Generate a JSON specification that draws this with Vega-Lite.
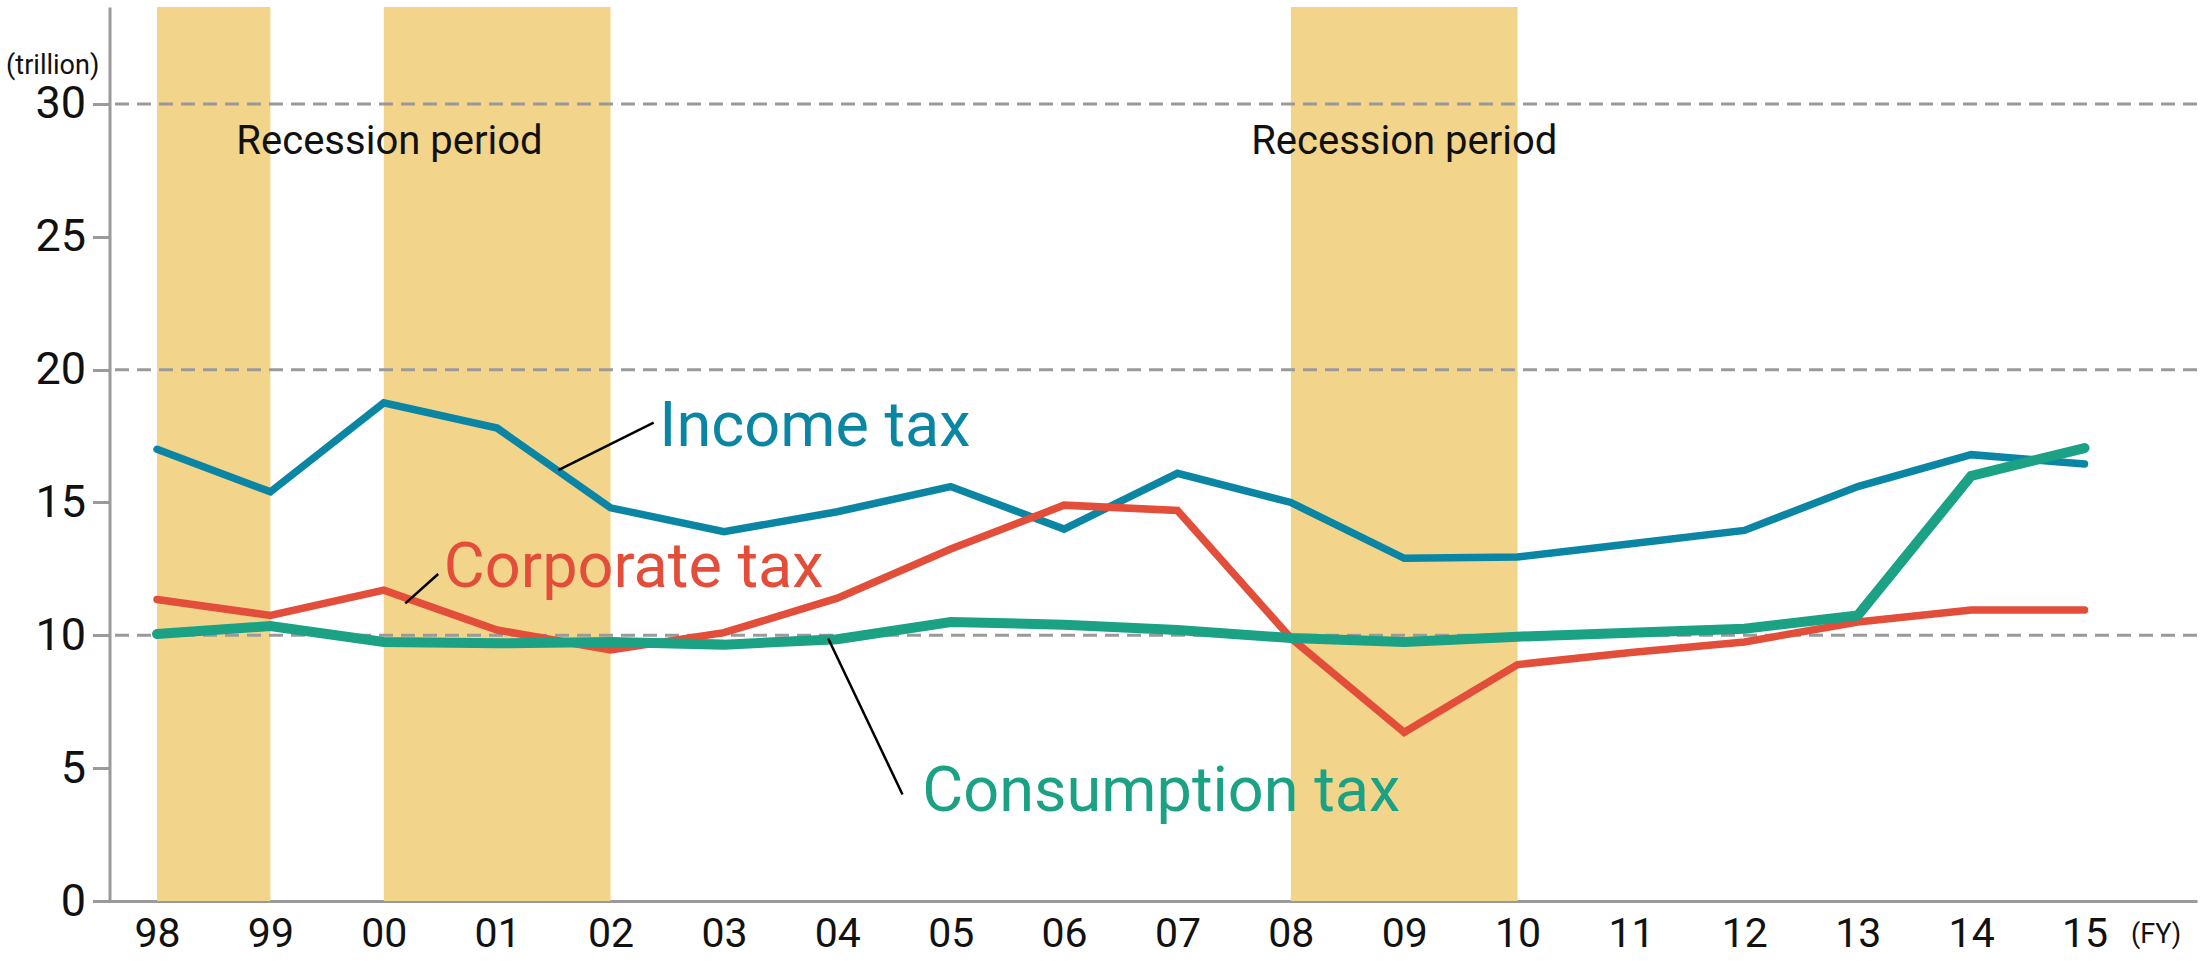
{
  "$schema": "https://vega.github.io/schema/vega-lite/v6.json",
  "width": 2087.5,
  "height": 894,
  "autosize": {"type": "none"},
  "padding": {"left": 109.5, "top": 7, "right": 4, "bottom": 60},
  "background": "white",
  "config": {"view": {"stroke": null}, "font": "Roboto", "text": {"font": "Roboto"}},
  "datasets": {
    "tax": [
      {"x": 1998, "y": 17.0, "tax": "Income tax"},
      {"x": 1999, "y": 15.4, "tax": "Income tax"},
      {"x": 2000, "y": 18.75, "tax": "Income tax"},
      {"x": 2001, "y": 17.8, "tax": "Income tax"},
      {"x": 2002, "y": 14.8, "tax": "Income tax"},
      {"x": 2003, "y": 13.9, "tax": "Income tax"},
      {"x": 2004, "y": 14.65, "tax": "Income tax"},
      {"x": 2005, "y": 15.6, "tax": "Income tax"},
      {"x": 2006, "y": 14.0, "tax": "Income tax"},
      {"x": 2007, "y": 16.1, "tax": "Income tax"},
      {"x": 2008, "y": 15.0, "tax": "Income tax"},
      {"x": 2009, "y": 12.9, "tax": "Income tax"},
      {"x": 2010, "y": 12.95, "tax": "Income tax"},
      {"x": 2011, "y": 13.45, "tax": "Income tax"},
      {"x": 2012, "y": 13.95, "tax": "Income tax"},
      {"x": 2013, "y": 15.6, "tax": "Income tax"},
      {"x": 2014, "y": 16.8, "tax": "Income tax"},
      {"x": 2015, "y": 16.45, "tax": "Income tax"},
      {"x": 1998, "y": 11.35, "tax": "Corporate tax"},
      {"x": 1999, "y": 10.75, "tax": "Corporate tax"},
      {"x": 2000, "y": 11.7, "tax": "Corporate tax"},
      {"x": 2001, "y": 10.2, "tax": "Corporate tax"},
      {"x": 2002, "y": 9.45, "tax": "Corporate tax"},
      {"x": 2003, "y": 10.1, "tax": "Corporate tax"},
      {"x": 2004, "y": 11.4, "tax": "Corporate tax"},
      {"x": 2005, "y": 13.25, "tax": "Corporate tax"},
      {"x": 2006, "y": 14.9, "tax": "Corporate tax"},
      {"x": 2007, "y": 14.7, "tax": "Corporate tax"},
      {"x": 2008, "y": 9.9, "tax": "Corporate tax"},
      {"x": 2009, "y": 6.35, "tax": "Corporate tax"},
      {"x": 2010, "y": 8.9, "tax": "Corporate tax"},
      {"x": 2011, "y": 9.35, "tax": "Corporate tax"},
      {"x": 2012, "y": 9.75, "tax": "Corporate tax"},
      {"x": 2013, "y": 10.5, "tax": "Corporate tax"},
      {"x": 2014, "y": 10.95, "tax": "Corporate tax"},
      {"x": 2015, "y": 10.95, "tax": "Corporate tax"},
      {"x": 1998, "y": 10.05, "tax": "Consumption tax"},
      {"x": 1999, "y": 10.35, "tax": "Consumption tax"},
      {"x": 2000, "y": 9.75, "tax": "Consumption tax"},
      {"x": 2001, "y": 9.7, "tax": "Consumption tax"},
      {"x": 2002, "y": 9.75, "tax": "Consumption tax"},
      {"x": 2003, "y": 9.65, "tax": "Consumption tax"},
      {"x": 2004, "y": 9.85, "tax": "Consumption tax"},
      {"x": 2005, "y": 10.5, "tax": "Consumption tax"},
      {"x": 2006, "y": 10.4, "tax": "Consumption tax"},
      {"x": 2007, "y": 10.2, "tax": "Consumption tax"},
      {"x": 2008, "y": 9.9, "tax": "Consumption tax"},
      {"x": 2009, "y": 9.75, "tax": "Consumption tax"},
      {"x": 2010, "y": 9.95, "tax": "Consumption tax"},
      {"x": 2011, "y": 10.1, "tax": "Consumption tax"},
      {"x": 2012, "y": 10.25, "tax": "Consumption tax"},
      {"x": 2013, "y": 10.75, "tax": "Consumption tax"},
      {"x": 2014, "y": 16.0, "tax": "Consumption tax"},
      {"x": 2015, "y": 17.05, "tax": "Consumption tax"}
    ],
    "bands": [
      {"x": 1998, "x2": 1999},
      {"x": 2000, "x2": 2002},
      {"x": 2008, "x2": 2010}
    ],
    "grid": [{"y": 10}, {"y": 20}, {"y": 30}],
    "leaders": [
      {"x": 2001.54, "y": 16.22, "x2": 2002.38, "y2": 18.01},
      {"x": 2000.19, "y": 11.2, "x2": 2000.48, "y2": 12.31},
      {"x": 2003.92, "y": 9.88, "x2": 2004.575, "y2": 4.01}
    ],
    "labels": [
      {"text": "Income tax", "x": 2002.43, "y": 17.12, "tax": "Income tax"},
      {"text": "Corporate tax", "x": 2000.53, "y": 11.83, "tax": "Corporate tax"},
      {"text": "Consumption tax", "x": 2004.75, "y": 3.38, "tax": "Consumption tax"}
    ],
    "recession": [
      {"text": "Recession period", "x": 2000.05, "y": 28.1},
      {"text": "Recession period", "x": 2009.0, "y": 28.1}
    ],
    "yunit": [{"text": "(trillion)", "x": 1997.08, "y": 31.43}],
    "xunit": [{"text": "(FY)", "x": 2015.41, "y": -1.27}]
  },
  "layer": [
    {
      "data": {"name": "bands"},
      "mark": {"type": "rect", "color": "#F3D48B"},
      "encoding": {
        "x": {"field": "x", "type": "quantitative", "scale": {"domain": [1997.581, 2015.992], "nice": false, "zero": false}, "axis": {"title": null, "values": [1998,1999,2000,2001,2002,2003,2004,2005,2006,2007,2008,2009,2010,2011,2012,2013,2014,2015], "labelExpr": "slice(toString(datum.value), 2)", "ticks": false, "grid": false, "domainColor": "#9a9a9a", "domainWidth": 3, "labelFontSize": 41, "labelColor": "#111111", "labelPadding": 13, "labelFont": "Roboto"}},
        "x2": {"field": "x2"},
        "y": {"datum": 33.65, "type": "quantitative", "scale": {"domain": [0, 33.65], "nice": false, "zero": true}, "axis": {"title": null, "values": [0,5,10,15,20,25,30], "grid": false, "ticks": true, "tickSize": 17, "tickColor": "#9a9a9a", "tickWidth": 3, "domainColor": "#9a9a9a", "domainWidth": 3, "labelFontSize": 45, "labelColor": "#111111", "labelPadding": 7, "labelFont": "Roboto"}},
        "y2": {"datum": 0}
      }
    },
    {
      "data": {"name": "grid"},
      "mark": {"type": "rule", "color": "#9a9a9a", "strokeWidth": 3, "strokeDash": [14, 8]},
      "encoding": {
        "y": {"field": "y", "type": "quantitative"}
      }
    },
    {
      "data": {"name": "tax"},
      "transform": [{"filter": "datum.tax == 'Income tax'"}],
      "mark": {"type": "line", "color": "#0A86A4", "strokeWidth": 7.5, "strokeCap": "round", "strokeJoin": "miter"},
      "encoding": {
        "x": {"field": "x", "type": "quantitative"},
        "y": {"field": "y", "type": "quantitative"}
      }
    },
    {
      "data": {"name": "tax"},
      "transform": [{"filter": "datum.tax == 'Corporate tax'"}],
      "mark": {"type": "line", "color": "#E34E3A", "strokeWidth": 7.5, "strokeCap": "round", "strokeJoin": "miter"},
      "encoding": {
        "x": {"field": "x", "type": "quantitative"},
        "y": {"field": "y", "type": "quantitative"}
      }
    },
    {
      "data": {"name": "tax"},
      "transform": [{"filter": "datum.tax == 'Consumption tax'"}],
      "mark": {"type": "line", "color": "#1BA183", "strokeWidth": 10, "strokeCap": "round", "strokeJoin": "miter"},
      "encoding": {
        "x": {"field": "x", "type": "quantitative"},
        "y": {"field": "y", "type": "quantitative"}
      }
    },
    {
      "data": {"name": "leaders"},
      "mark": {"type": "rule", "color": "#000000", "strokeWidth": 2.5},
      "encoding": {
        "x": {"field": "x", "type": "quantitative"},
        "y": {"field": "y", "type": "quantitative"},
        "x2": {"field": "x2"},
        "y2": {"field": "y2"}
      }
    },
    {
      "data": {"name": "labels"},
      "mark": {"type": "text", "align": "left", "baseline": "alphabetic", "fontSize": 63, "font": "Roboto"},
      "encoding": {
        "x": {"field": "x", "type": "quantitative"},
        "y": {"field": "y", "type": "quantitative"},
        "text": {"field": "text"},
        "color": {"field": "tax", "type": "nominal", "scale": {"domain": ["Income tax", "Corporate tax", "Consumption tax"], "range": ["#0A86A4", "#E34E3A", "#1BA183"]}, "legend": null}
      }
    },
    {
      "data": {"name": "recession"},
      "mark": {"type": "text", "align": "center", "baseline": "alphabetic", "fontSize": 40, "font": "Roboto", "color": "#111111"},
      "encoding": {
        "x": {"field": "x", "type": "quantitative"},
        "y": {"field": "y", "type": "quantitative"},
        "text": {"field": "text"}
      }
    },
    {
      "data": {"name": "yunit"},
      "mark": {"type": "text", "align": "center", "baseline": "middle", "fontSize": 27, "font": "Roboto", "color": "#111111"},
      "encoding": {
        "x": {"field": "x", "type": "quantitative"},
        "y": {"field": "y", "type": "quantitative"},
        "text": {"field": "text"}
      }
    },
    {
      "data": {"name": "xunit"},
      "mark": {"type": "text", "align": "left", "baseline": "middle", "fontSize": 27, "font": "Roboto", "color": "#111111"},
      "encoding": {
        "x": {"field": "x", "type": "quantitative"},
        "y": {"field": "y", "type": "quantitative"},
        "text": {"field": "text"}
      }
    }
  ]
}
